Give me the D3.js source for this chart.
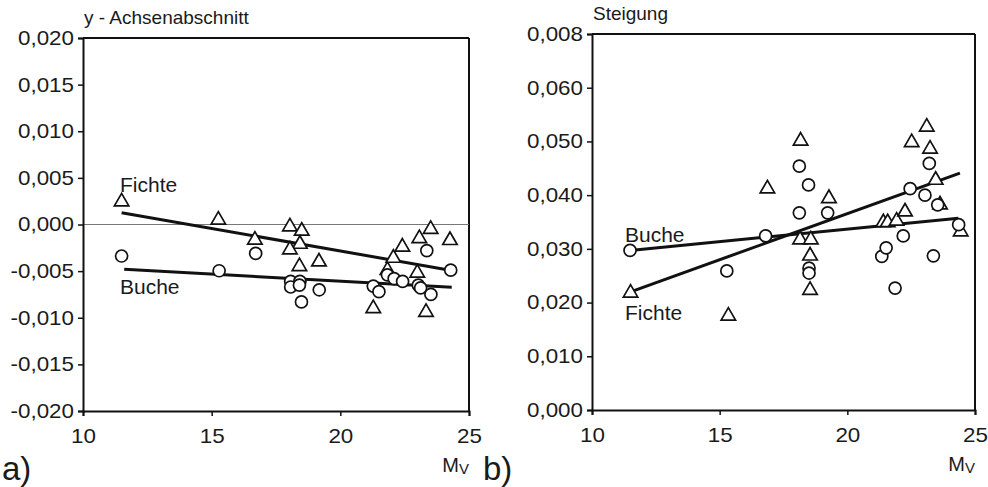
<!DOCTYPE html>
<html><head><meta charset="utf-8">
<script src="https://cdn.jsdelivr.net/npm/d3@7/dist/d3.min.js"></script>
<style>
body{margin:0;background:#fff;}
svg text{font-family:"Liberation Sans",Arial,sans-serif;fill:#1a1a1a;}
</style></head>
<body><svg id="c" width="988" height="487"></svg>
<script>
// ---- data ----
const xTicks = [10, 15, 20, 25];
const xTickLabels = ["10", "15", "20", "25"];
const yTicksA = [-0.020, -0.015, -0.010, -0.005, 0.000, 0.005, 0.010, 0.015, 0.020];
const yTickLabelsA = ["-0,020", "-0,015", "-0,010", "-0,005", "0,000", "0,005", "0,010", "0,015", "0,020"];
const yTicksB = [0.000, 0.010, 0.020, 0.030, 0.040, 0.050, 0.060, 0.070];
const yTickLabelsB = ["0,000", "0,010", "0,020", "0,030", "0,040", "0,050", "0,060", "0,008"];

// Panel a) y-Achsenabschnitt
const fichteA_x = [11.50, 15.26, 16.68, 18.04, 18.50, 18.43, 18.04, 18.41, 19.17, 21.28, 21.83, 22.06, 22.41, 23.07, 23.51, 24.26, 23.33, 22.99];
const fichteA_y = [0.00245, 0.00048, -0.00166, -0.00024, -0.0007, -0.0021, -0.0027, -0.0045, -0.0040, -0.0090, -0.0049, -0.0036, -0.0024, -0.0015, -0.0005, -0.0017, -0.0094, -0.0052];
const bucheA_x = [11.50, 15.29, 16.71, 18.07, 18.07, 18.43, 18.41, 18.49, 19.18, 21.28, 21.50, 21.83, 22.09, 22.42, 23.03, 23.12, 23.36, 23.52, 24.29];
const bucheA_y = [-0.00338, -0.00496, -0.0031, -0.0061, -0.0067, -0.0061, -0.0065, -0.0083, -0.0070, -0.0066, -0.0072, -0.0054, -0.0058, -0.0061, -0.0065, -0.0068, -0.0028, -0.0075, -0.0049];
const fitFichteA = [[11.5, 0.00127], [24.26, -0.0049]];
const fitBucheA = [[11.6, -0.0048], [24.33, -0.00674]];

// Panel b) Steigung
const fichteB_x = [11.51, 15.34, 16.87, 18.17, 18.15, 18.57, 18.54, 18.54, 19.28, 21.41, 21.58, 21.93, 22.26, 22.52, 23.11, 23.24, 23.46, 23.63, 24.44];
const fichteB_y = [0.0218, 0.0175, 0.0412, 0.0501, 0.0317, 0.0317, 0.0287, 0.0223, 0.0394, 0.0349, 0.0349, 0.0352, 0.0369, 0.0498, 0.0527, 0.0486, 0.0428, 0.0382, 0.0332];
const bucheB_x = [11.49, 15.28, 16.80, 18.12, 18.48, 18.12, 18.50, 18.50, 19.23, 21.35, 21.52, 22.19, 21.87, 22.46, 23.04, 23.21, 23.37, 23.54, 24.36];
const bucheB_y = [0.0297, 0.0259, 0.0324, 0.0454, 0.0419, 0.0367, 0.0264, 0.0255, 0.0367, 0.0286, 0.0302, 0.0324, 0.0227, 0.0412, 0.0400, 0.0459, 0.0287, 0.0382, 0.0345];
const fitBucheB = [[11.49, 0.0297], [24.35, 0.0357]];
const fitFichteB = [[11.51, 0.0220], [24.41, 0.0441]];

const svg = d3.select("#c");
const SX = 1.12; // horizontal stretch of the reference lettering

function panel(o) {
  const x = d3.scaleLinear().domain([10, 25]).range([o.x0, o.x1]);
  const y = d3.scaleLinear().domain(o.ydom).range([o.y1, o.y0]);
  const g = svg.append("g");
  g.append("line").attr("x1", o.x0).attr("x2", o.x1).attr("y1", o.y0).attr("y2", o.y0).attr("stroke", "#111").attr("stroke-width", 2);
  g.append("line").attr("x1", o.x1).attr("x2", o.x1).attr("y1", o.y0).attr("y2", o.y1).attr("stroke", "#111").attr("stroke-width", 2);
  if (o.zero) {
    g.append("line").attr("x1", o.x0).attr("x2", o.x1).attr("y1", y(0)).attr("y2", y(0)).attr("stroke", "#777").attr("stroke-width", 1);
  }
  const ya = d3.axisLeft(y).tickValues(o.yticks).tickSize(5).tickPadding(4)
    .tickFormat((d, i) => o.ylabels[i]);
  const yg = g.append("g").attr("transform", `translate(${o.x0},0)`).call(ya);
  const xa = d3.axisBottom(x).tickValues(xTicks).tickSize(5).tickPadding(13)
    .tickFormat((d, i) => xTickLabels[i]);
  const xg = g.append("g").attr("transform", `translate(0,${o.y1})`).call(xa);
  [yg, xg].forEach(a => {
    a.select(".domain").attr("stroke", "#111").attr("stroke-width", 2);
    a.selectAll(".tick line").attr("stroke", "#111").attr("stroke-width", 1.5);
    a.selectAll(".tick text").attr("font-size", 20).attr("fill", "#1a1a1a")
      .attr("font-family", '"Liberation Sans",Arial,sans-serif');
  });
  yg.selectAll(".tick text").each(function () {
    const t = d3.select(this); const tx = +t.attr("x");
    t.attr("x", 0).attr("transform", `translate(${tx},0) scale(${SX},1)`);
  });
  xg.selectAll(".tick text").each(function () {
    const t = d3.select(this); const ty = +t.attr("y");
    t.attr("y", 0).attr("transform", `translate(0,${ty}) scale(${SX},1)`);
  });
  const line = d3.line().x(d => x(d[0])).y(d => y(d[1]));
  o.fits.forEach(f => g.append("path").attr("d", line(f)).attr("fill", "none").attr("stroke", "#111").attr("stroke-width", 3));
  const tri = d3.symbol().type(d3.symbolTriangle).size(90);
  g.selectAll(".tri").data(o.fx.map((v, i) => [v, o.fy[i]])).join("path")
    .attr("d", tri).attr("transform", d => `translate(${x(d[0])},${y(d[1])})`)
    .attr("fill", "#fff").attr("stroke", "#111").attr("stroke-width", 1.7);
  g.selectAll(".cir").data(o.bx.map((v, i) => [v, o.by[i]])).join("circle")
    .attr("cx", d => x(d[0])).attr("cy", d => y(d[1])).attr("r", 6)
    .attr("fill", "#fff").attr("stroke", "#111").attr("stroke-width", 1.7);
  o.labels.forEach(l => g.append("text").attr("transform", `translate(${l.x},${l.y}) scale(1.05,1)`).attr("font-size", 20).text(l.t));
  g.append("text").attr("x", o.x0 + 1).attr("y", o.y0 - 14).attr("font-size", 19).text(o.title);
  const mv = g.append("text").attr("x", o.x1).attr("y", o.y1 + 61).attr("text-anchor", "end").attr("font-size", 20);
  mv.append("tspan").text("M");
  mv.append("tspan").attr("font-size", 15).attr("dy", 2).text("V");
  svg.append("text").attr("x", o.px).attr("y", 480).attr("font-size", 33)
    .attr("font-family", "Lato, 'Open Sans', sans-serif").attr("fill", "#111").text(o.plabel);
}

panel({x0: 83, x1: 469, y0: 38, y1: 411, ydom: [-0.020, 0.020], yticks: yTicksA, ylabels: yTickLabelsA, zero: true,
  fx: fichteA_x, fy: fichteA_y, bx: bucheA_x, by: bucheA_y, fits: [fitFichteA, fitBucheA],
  labels: [{t: "Fichte", x: 120, y: 192}, {t: "Buche", x: 120, y: 294}], title: "y - Achsenabschnitt", px: 2, plabel: "a)"});
panel({x0: 592, x1: 975, y0: 34, y1: 410, ydom: [0, 0.070], yticks: yTicksB, ylabels: yTickLabelsB, zero: false,
  fx: fichteB_x, fy: fichteB_y, bx: bucheB_x, by: bucheB_y, fits: [fitBucheB, fitFichteB],
  labels: [{t: "Buche", x: 625, y: 242}, {t: "Fichte", x: 625, y: 320}], title: "Steigung", px: 483, plabel: "b)"});
</script></body></html>
